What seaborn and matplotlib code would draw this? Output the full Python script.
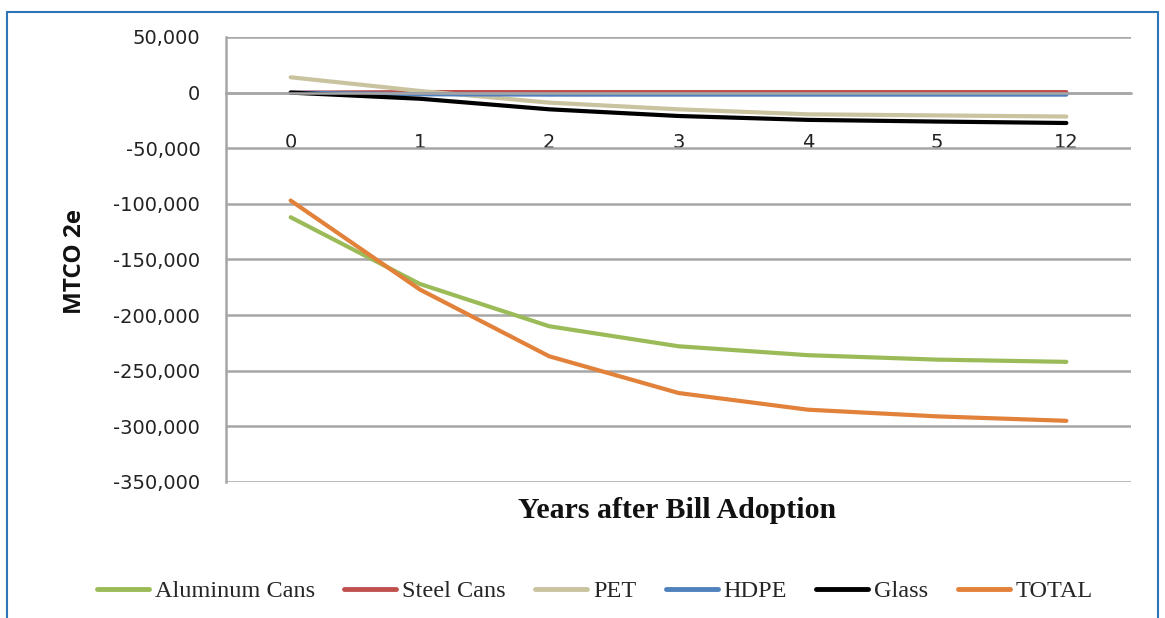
import matplotlib
matplotlib.use("Agg")
import matplotlib.pyplot as plt
import seaborn as sns
import pandas as pd
from matplotlib.ticker import FuncFormatter, FixedLocator
from matplotlib.lines import Line2D

years = ["0", "1", "2", "3", "4", "5", "12"]
aluminum_cans = [-112000, -172000, -210000, -228000, -236000, -240000, -242000]
steel_cans = [0, 500, 500, 500, 500, 500, 500]
pet = [13800, 1500, -9000, -15000, -19500, -20500, -21500]
hdpe = [0, -1500, -1800, -1800, -1800, -1800, -1800]
glass = [0, -5500, -15000, -21000, -24500, -26000, -27300]
total = [-97000, -177000, -237000, -270000, -285000, -291000, -295000]

series_names = ["Aluminum Cans", "Steel Cans", "PET", "HDPE", "Glass", "TOTAL"]
series_values = [aluminum_cans, steel_cans, pet, hdpe, glass, total]
colors = ["#9BBB59", "#C0504D", "#C9C3A0", "#4F81BD", "#000000", "#E2813A"]

rows = []
for name, vals in zip(series_names, series_values):
    for yr, v in zip(years, vals):
        rows.append({"Year": yr, "Value": v, "Series": name})
df = pd.DataFrame(rows)

sns.set_theme(style="white")
plt.rcParams["font.family"] = ["DejaVu Sans"]

fig = plt.figure(figsize=(11.65, 6.18), dpi=100)
W, H = 1165, 618
ax = fig.add_axes([226 / W, 1 - 482 / H, (1131 - 226) / W, (482 - 37) / H])

sns.lineplot(data=df, x="Year", y="Value", hue="Series", hue_order=series_names,
             palette=dict(zip(series_names, colors)), sort=False, linewidth=3.0,
             ax=ax, legend=False)

ax.set_xlim(-0.5, len(years) - 0.5)
ax.set_ylim(-350000, 50000)
ax.set_yticks(range(-350000, 50001, 50000))
ax.yaxis.set_major_formatter(FuncFormatter(lambda v, p: f"{int(v):,}"))
ax.grid(axis="y", color="#A6A6A6", linewidth=1.8)
ax.grid(axis="x", visible=False)
ax.set_axisbelow(True)

for s in ["top", "right"]:
    ax.spines[s].set_visible(False)
ax.spines["left"].set_color("#A6A6A6")
ax.spines["left"].set_linewidth(1.8)
ax.spines["bottom"].set_position(("data", 0))
ax.spines["bottom"].set_color("#A6A6A6")
ax.spines["bottom"].set_linewidth(1.8)

ax.tick_params(axis="y", which="major", length=5.5, width=1.8, color="#A6A6A6",
               labelsize=14, labelcolor="#222222", pad=13, direction="out")
ax.set_xticks(range(len(years)))
ax.set_xticklabels(years)
ax.tick_params(axis="x", which="major", length=0, pad=29, labelsize=14,
               labelcolor="#222222")
ax.xaxis.set_minor_locator(FixedLocator([i + 0.5 for i in range(len(years))]))
ax.tick_params(axis="x", which="minor", length=5, width=1.8, color="#A6A6A6",
               direction="out")

ax.set_xlabel("")
ax.set_ylabel("")
fig.text(677 / W, 1 - 510 / H, "Years after Bill Adoption", ha="center", va="center",
         fontsize=21.5, fontweight="bold", family=["Liberation Serif", "DejaVu Serif"],
         color="#111111")
fig.text(75 / W, 1 - 262 / H, "MTCO 2e", ha="center", va="center", rotation=90,
         fontsize=17.5, fontweight="bold", family=["Open Sans", "DejaVu Sans"],
         color="#111111")

handles = [Line2D([0], [0], color=c, linewidth=3.5) for c in colors]
fig.legend(handles, series_names, loc="center", bbox_to_anchor=(595 / W, 1 - 591 / H),
           ncol=6, frameon=False, handlelength=2.14, handletextpad=0.25,
           columnspacing=1.2, prop={"family": ["Liberation Serif", "DejaVu Serif"], "size": 17.5})

# blue frame
frame_color = "#2E75B6"
fig.add_artist(Line2D([7 / W, 7 / W], [0, 1 - 12 / H], color=frame_color, linewidth=1.5,
                      transform=fig.transFigure))
fig.add_artist(Line2D([7 / W, 1158 / W], [1 - 12 / H, 1 - 12 / H], color=frame_color,
                      linewidth=1.5, transform=fig.transFigure))
fig.add_artist(Line2D([1158 / W, 1158 / W], [0, 1 - 12 / H], color=frame_color,
                      linewidth=1.5, transform=fig.transFigure))

fig.savefig("out.png", dpi=100)
